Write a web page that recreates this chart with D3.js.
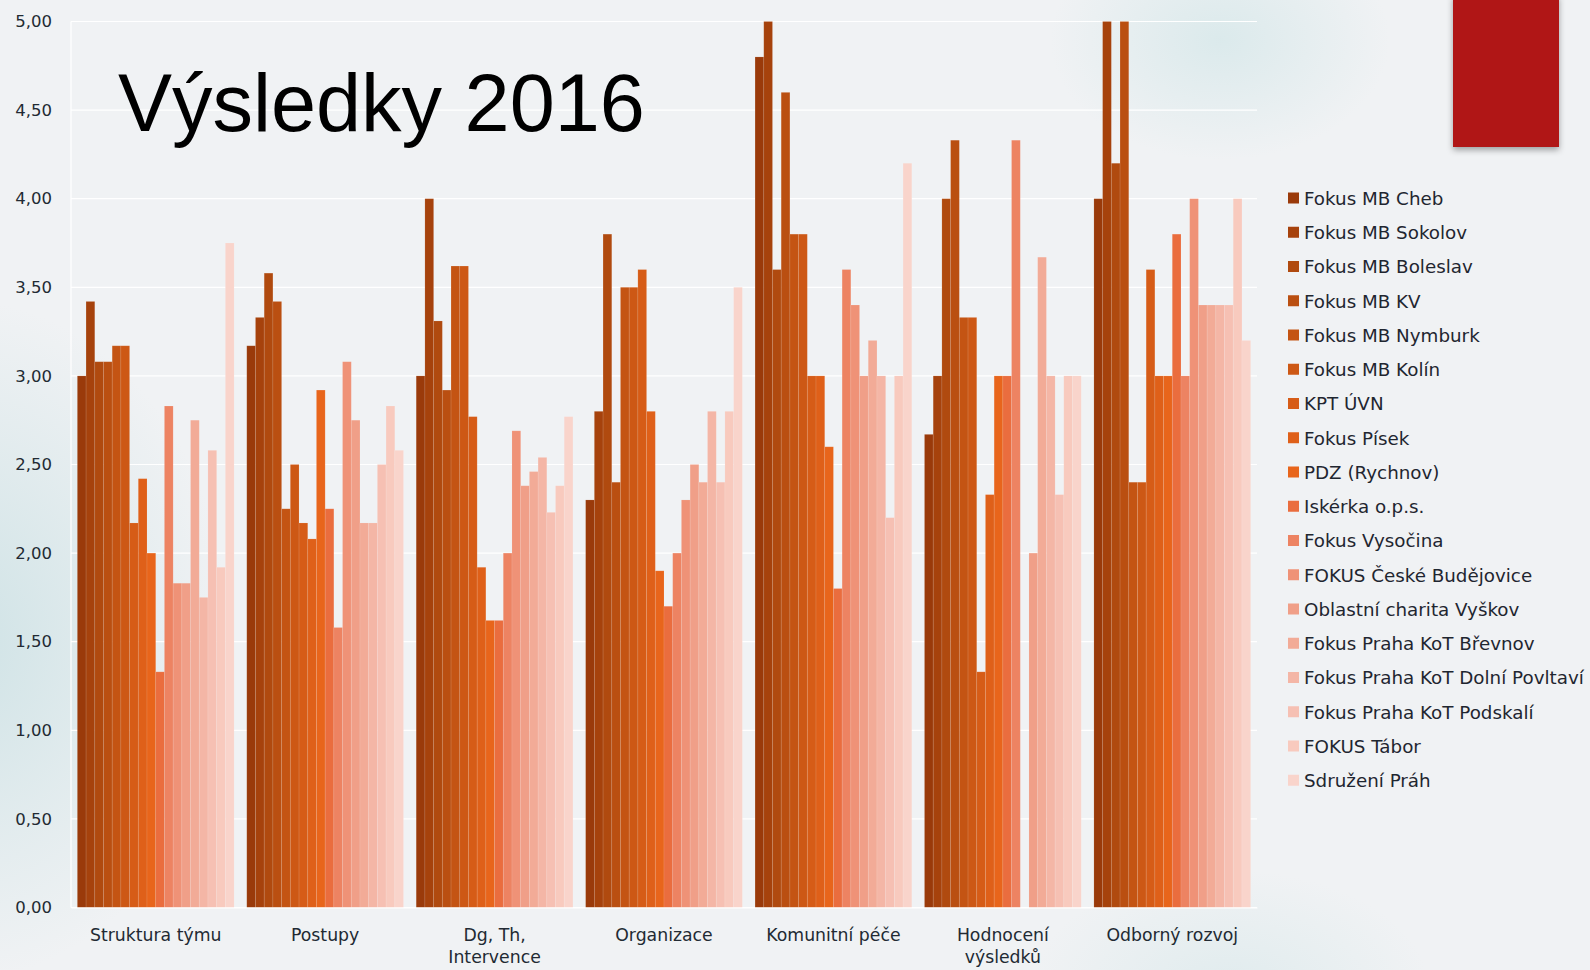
<!DOCTYPE html>
<html><head><meta charset="utf-8">
<script src="https://cdn.jsdelivr.net/npm/d3@7"></script>
<style>html,body{margin:0;padding:0;background:#f0f2f4;overflow:hidden}</style>
</head><body><svg id="c" width="1590" height="970"></svg>
<script>
// ---- data ----
const categories = ["Struktura týmu", "Postupy", "Dg, Th,\nIntervence", "Organizace", "Komunitní péče", "Hodnocení\nvýsledků", "Odborný rozvoj"];
const seriesNames = ["Fokus MB Cheb", "Fokus MB Sokolov", "Fokus MB Boleslav", "Fokus MB KV", "Fokus MB Nymburk", "Fokus MB Kolín", "KPT ÚVN", "Fokus Písek", "PDZ (Rychnov)", "Iskérka o.p.s.", "Fokus Vysočina", "FOKUS České Budějovice", "Oblastní charita Vyškov", "Fokus Praha KoT Břevnov", "Fokus Praha KoT Dolní Povltaví", "Fokus Praha KoT Podskalí", "FOKUS Tábor", "Sdružení Práh"];
// values per category, in series order
const strukturaTymu = [3.00, 3.42, 3.08, 3.08, 3.17, 3.17, 2.17, 2.42, 2.00, 1.33, 2.83, 1.83, 1.83, 2.75, 1.75, 2.58, 1.92, 3.75];
const postupy = [3.17, 3.33, 3.58, 3.42, 2.25, 2.50, 2.17, 2.08, 2.92, 2.25, 1.58, 3.08, 2.75, 2.17, 2.17, 2.50, 2.83, 2.58];
const dgThIntervence = [3.00, 4.00, 3.31, 2.92, 3.62, 3.62, 2.77, 1.92, 1.62, 1.62, 2.00, 2.69, 2.38, 2.46, 2.54, 2.23, 2.38, 2.77];
const organizace = [2.30, 2.80, 3.80, 2.40, 3.50, 3.50, 3.60, 2.80, 1.90, 1.70, 2.00, 2.30, 2.50, 2.40, 2.80, 2.40, 2.80, 3.50];
const komunitniPece = [4.80, 5.00, 3.60, 4.60, 3.80, 3.80, 3.00, 3.00, 2.60, 1.80, 3.60, 3.40, 3.00, 3.20, 3.00, 2.20, 3.00, 4.20];
const hodnoceniVysledku = [2.67, 3.00, 4.00, 4.33, 3.33, 3.33, 1.33, 2.33, 3.00, 3.00, 4.33, null, 2.00, 3.67, 3.00, 2.33, 3.00, 3.00];
const odbornyRozvoj = [4.00, 5.00, 4.20, 5.00, 2.40, 2.40, 3.60, 3.00, 3.00, 3.80, 3.00, 4.00, 3.40, 3.40, 3.40, 3.40, 4.00, 3.20];
const categoryValues = [strukturaTymu, postupy, dgThIntervence, organizace, komunitniPece, hodnoceniVysledku, odbornyRozvoj];
const yTicks = [0, 0.5, 1, 1.5, 2, 2.5, 3, 3.5, 4, 4.5, 5];
const seriesColors = ["#9a3a0a", "#a6420c", "#b04a0f", "#ba4f11", "#c45413", "#cd5815", "#d65c17", "#df6019", "#e8651b", "#ea6d3e", "#ed8362", "#ef9277", "#f09f88", "#f2ab97", "#f4b6a6", "#f6c0b3", "#f8cabe", "#f9d4cb"];

// ---- drawing ----
const svg = d3.select("#c");
const defs = svg.append("defs");
function radial(id, color, op) {
  const g = defs.append("radialGradient").attr("id", id);
  g.append("stop").attr("offset", "0%").attr("stop-color", color).attr("stop-opacity", op);
  g.append("stop").attr("offset", "100%").attr("stop-color", color).attr("stop-opacity", 0);
}
radial("g1", "#c9e0e3", 0.85);
radial("g2", "#d2e6e8", 0.7);
radial("g3", "#d5e7e9", 0.6);
const sh = defs.append("filter").attr("id", "shadow").attr("x", "-20%").attr("y", "-20%").attr("width", "140%").attr("height", "140%");
sh.append("feDropShadow").attr("dx", 0).attr("dy", 3).attr("stdDeviation", 3).attr("flood-color", "#000").attr("flood-opacity", 0.35);

svg.append("rect").attr("width", 1590).attr("height", 970).attr("fill", "#f0f2f4");
svg.append("ellipse").attr("cx", -40).attr("cy", 640).attr("rx", 270).attr("ry", 340).attr("fill", "url(#g1)");
svg.append("ellipse").attr("cx", 1220).attr("cy", 40).attr("rx", 170).attr("ry", 120).attr("fill", "url(#g2)");
svg.append("ellipse").attr("cx", 1230).attr("cy", 990).attr("rx", 200).attr("ry", 120).attr("fill", "url(#g3)");

const x0 = 71, x1 = 1257, yTop = 21.5, yBase = 907.5;
const x = d3.scaleBand().domain(categories).range([x0, x1]).paddingInner(0.075).paddingOuter(0.0375);
const xs = d3.scaleBand().domain(d3.range(seriesNames.length)).range([0, x.bandwidth()]).padding(0);
const y = d3.scaleLinear().domain([0, 5]).range([yBase, yTop]);
const fmt = v => d3.format(".2f")(v).replace(".", ",");

// grid
svg.append("g").selectAll("line").data(yTicks).join("line")
  .attr("x1", x0).attr("x2", x1).attr("y1", d => y(d)).attr("y2", d => y(d))
  .attr("stroke", "#ffffff").attr("stroke-width", 1.2);
svg.append("line").attr("x1", x0).attr("x2", x0).attr("y1", yTop).attr("y2", yBase).attr("stroke", "#fff").attr("stroke-width", 1.2);

// title
svg.append("text").attr("x", 118).attr("y", 131).text("Výsledky 2016")
  .attr("font-family", "Liberation Sans, Arial, sans-serif").attr("font-size", 81).attr("fill", "#000");

// y axis
const yAxis = d3.axisLeft(y).tickValues(yTicks).tickFormat(fmt).tickSize(0).tickPadding(0);
const ya = svg.append("g").attr("transform", "translate(52,0)").call(yAxis);
ya.select(".domain").remove();
ya.selectAll("text").attr("font-family", "DejaVu Sans, sans-serif").attr("font-size", 16.5).attr("fill", "#222a33").attr("dy", "0.32em");

// bars
const groups = svg.append("g").selectAll("g").data(categories).join("g")
  .attr("transform", d => `translate(${x(d)},0)`);
groups.selectAll("rect").data((d, ci) => categoryValues[ci].map((v, si) => ({ v, si })).filter(o => o.v != null))
  .join("rect")
  .attr("x", d => xs(d.si)).attr("width", xs.bandwidth())
  .attr("y", d => y(d.v)).attr("height", d => y(0) - y(d.v))
  .attr("fill", d => seriesColors[d.si])
  .attr("stroke", "rgba(255,255,255,0.12)").attr("stroke-width", 0.8);

// x axis labels
const xa = svg.append("g").attr("transform", `translate(0,${yBase})`).call(d3.axisBottom(x).tickSize(0).tickFormat(""));
xa.select(".domain").attr("stroke", "#fff").attr("stroke-width", 1.2);
const lab = svg.append("g").selectAll("text").data(categories).join("text")
  .attr("x", d => x(d) + x.bandwidth() / 2).attr("y", 940.5)
  .attr("text-anchor", "middle").attr("font-family", "DejaVu Sans, sans-serif").attr("font-size", 17.3).attr("fill", "#222a33");
lab.selectAll("tspan").data(d => d.split("\n")).join("tspan")
  .attr("x", function() { return d3.select(this.parentNode).attr("x"); })
  .attr("dy", (d, i) => i === 0 ? 0 : 22.5).text(d => d);

// legend
const leg = svg.append("g").selectAll("g").data(seriesNames).join("g")
  .attr("transform", (d, i) => `translate(1288,${198.5 + i * 34.25})`);
leg.append("rect").attr("x", 0).attr("y", -6).attr("width", 11).attr("height", 11).attr("fill", (d, i) => seriesColors[i]);
leg.append("text").attr("x", 16).attr("y", 0).attr("dy", "0.35em").text(d => d)
  .attr("font-family", "DejaVu Sans, sans-serif").attr("font-size", 18.3).attr("fill", "#1f2630");

// red accent block
svg.append("rect").attr("x", 1453).attr("y", -5).attr("width", 106).attr("height", 152)
  .attr("fill", "#b01513").attr("filter", "url(#shadow)");
</script></body></html>
